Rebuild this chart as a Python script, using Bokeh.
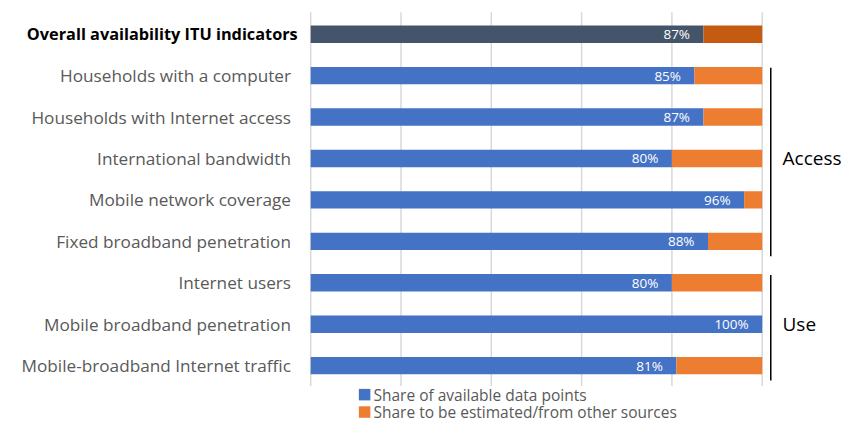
from bokeh.plotting import figure
from bokeh.models import Range1d, ColumnDataSource
from bokeh.core.properties import value
from bokeh.embed import file_html
from bokeh.resources import INLINE

# ---- data ----
categories = [
    "Overall availability ITU indicators",
    "Households with a computer",
    "Households with Internet access",
    "International bandwidth",
    "Mobile network coverage",
    "Fixed broadband penetration",
    "Internet users",
    "Mobile broadband penetration",
    "Mobile-broadband Internet traffic",
]
available = [87, 85, 87, 80, 96, 88, 80, 100, 81]
total = [100] * len(categories)
series_names = ["Share of available data points", "Share to be estimated/from other sources"]
ticks = [0, 20, 40, 60, 80, 100]
group_names = ["Access", "Use"]
group_rows = [[1, 2, 3, 4, 5], [6, 7, 8]]

# ---- style ----
FONT = "Open Sans"
BLUE, ORANGE = "#4472C4", "#ED7D31"
DARK_BLUE, DARK_ORANGE = "#44546A", "#C55A11"
GREY = "#595959"

W, H = 849, 423
X0PX, Y0PX = 310.2, 33.7      # pixel position of x=0 / first row
PXX, PXY = 4.515, 41.43       # pixels per data unit

p = figure(width=W, height=H, output_backend="svg", toolbar_location=None,
           x_axis_type=None, y_axis_type=None,
           x_range=Range1d(-X0PX / PXX, (W - X0PX) / PXX),
           y_range=Range1d((H - Y0PX) / PXY, -Y0PX / PXY),
           min_border=0, outline_line_color=None)
p.xgrid.visible = False
p.ygrid.visible = False

rows = list(range(len(categories)))

# gridlines
p.segment(x0=ticks, x1=ticks, y0=[-0.53] * len(ticks), y1=[8.49] * len(ticks),
          line_color="#D9D9D9", line_width=1.5)

col_a = [DARK_BLUE if i == 0 else BLUE for i in rows]
col_b = [DARK_ORANGE if i == 0 else ORANGE for i in rows]
src = ColumnDataSource(dict(y=rows, a=available, t=total, ca=col_a, cb=col_b,
                            lab=[f"{v}%" for v in available], cat=categories))

p.hbar(y="y", left=0, right="a", height=0.42, fill_color="ca", line_color=None, source=src)
p.hbar(y="y", left="a", right="t", height=0.42, fill_color="cb", line_color=None, source=src)

p.text(x="a", y="y", text="lab", source=src, x_offset=-13.5, text_align="right",
       text_baseline="middle", text_color="white", text_font=value(FONT),
       text_font_size="13.5px")

# category labels
src_cat = ColumnDataSource(dict(y=rows[1:], cat=categories[1:], x=[0] * (len(rows) - 1)))
p.text(x="x", y="y", text="cat", source=src_cat, x_offset=-19.7, text_align="right",
       text_baseline="middle", text_color=GREY, text_font=value(FONT),
       text_font_size="17.2px")
p.text(x=[0], y=[rows[0]], text=[categories[0]], x_offset=-13, text_align="right",
       text_baseline="middle", text_color="black", text_font=value(FONT),
       text_font_size="16.3px", text_font_style="bold")

# group brackets
bx = 101.9
for name, grp in zip(group_names, group_rows):
    p.segment(x0=[bx], x1=[bx], y0=[grp[0] - 0.19], y1=[grp[-1] + 0.36],
              line_color="black", line_width=1.5)
    p.text(x=[bx + 2.6], y=[sum(grp) / len(grp)], text=[name], text_align="left",
           text_baseline="middle", text_color="black", text_font=value(FONT),
           text_font_size="19px")

# legend (manual)
leg_y = [8.7, 9.12]
p.scatter(x=[11.94, 11.94], y=leg_y, marker="square", size=11.5,
          fill_color=[BLUE, ORANGE], line_color=None)
p.text(x=[13.9, 13.9], y=leg_y, text=series_names, text_align="left",
       text_baseline="middle", text_color=GREY, text_font=value(FONT),
       text_font_size="15.5px")

open("out.html", "w").write(file_html(p, INLINE))
